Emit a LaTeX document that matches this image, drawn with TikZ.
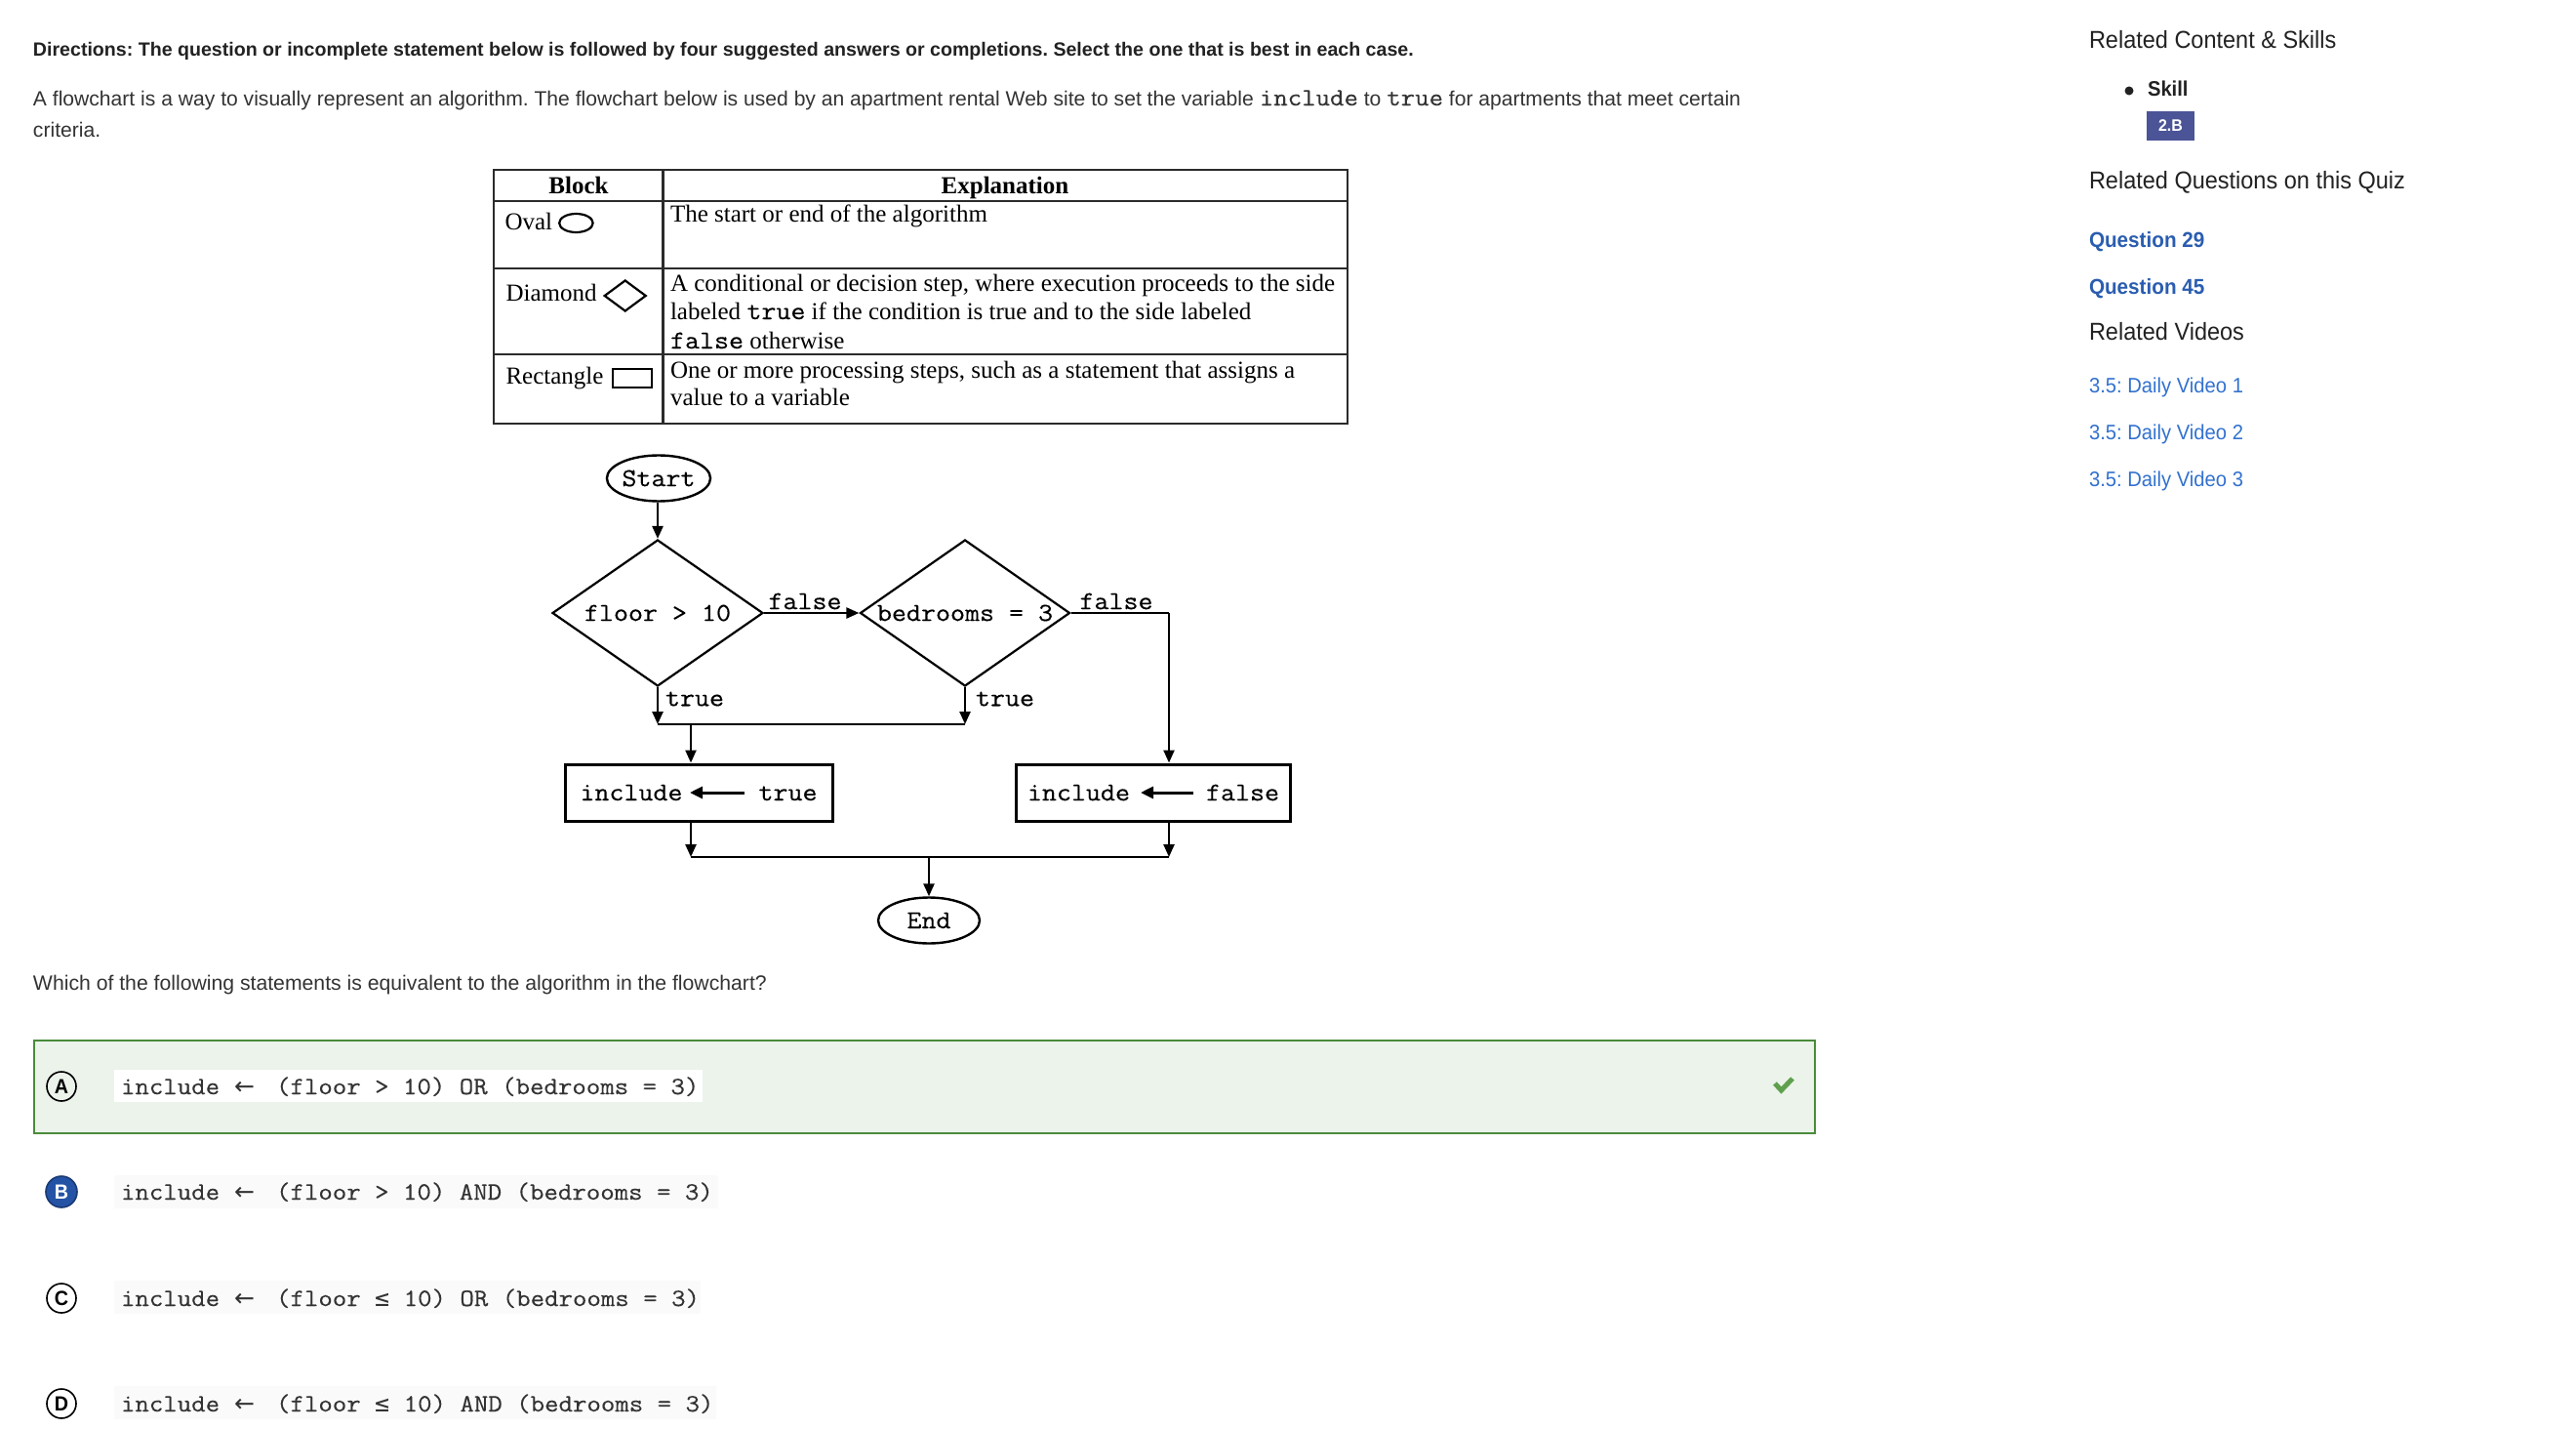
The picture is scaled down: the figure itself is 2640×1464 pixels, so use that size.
\documentclass[tikz,border=0pt]{standalone}
\usepackage{fontspec}
\usetikzlibrary{shapes.geometric,arrows.meta,calc}
\setmainfont{Liberation Sans}
\newfontfamily\uifont{Liberation Sans}[FakeStretch=0.94]
\newfontfamily\bodyfont{Liberation Sans}
\newfontfamily\tabserif{Liberation Serif}
\newfontfamily\codefont{Latin Modern Mono}[FakeStretch=1.1,FakeBold=0.3]
\newfontfamily\symsans{DejaVu Sans}
\newfontfamily\symmono{DejaVu Sans Mono}
\newcommand\setpx[1]{\fontsize{#1}{#1}\selectfont}
\newcommand\chart{\codefont\setpx{26.5}}
\newcommand\ans{\codefont\setpx{25.5}}
\newcommand\lar{{\symsans\setpx{25}←}}
\newcommand\leqm{{\symmono\setpx{25}≤}}

\definecolor{ink}{HTML}{222222}
\definecolor{body}{HTML}{333333}
\definecolor{okgreen}{HTML}{4A8B3B}
\definecolor{okfill}{HTML}{EBF3EB}
\definecolor{tick}{HTML}{5FA04E}
\definecolor{pickblue}{HTML}{2453A6}
\definecolor{badge}{HTML}{4B5496}
\definecolor{qlink}{HTML}{2A5DB0}
\definecolor{vlink}{HTML}{3271CF}
\definecolor{rule}{HTML}{2B2B2B}

\tikzset{
  txt/.style={anchor=base west, inner sep=0pt, outer sep=0pt},
  ln/.style={line width=2.4pt, draw=black},
  arr/.style={ln, -{Triangle[length=13pt,width=11pt]}},
  inarr/.style={line width=3pt, -{Triangle[length=13pt,width=12pt]}},
  oval/.style={ellipse, draw, line width=2.4pt, inner sep=0pt},
  dia/.style={diamond, shape aspect=1.45, draw, line width=2.2pt, inner sep=0pt},
  procbox/.style={rectangle, draw, line width=3pt, inner sep=0pt, minimum height=58pt},
  tabline/.style={line width=2.4pt, draw=rule},
  letter/.style={circle, draw, line width=1.6pt, minimum size=30pt, inner sep=0pt, font=\uifont\bfseries\setpx{21}},
}

\begin{document}
\frenchspacing
\begin{tikzpicture}[x=1pt, y=-1pt]
\useasboundingbox[fill=white] (0,0) rectangle (2640,1464);

% ---------- header text ----------
\node[txt, text=ink] (dir) at (34,58) {\bodyfont\bfseries\setpx{19.6}Directions: The question or incomplete statement below is followed by four suggested answers or completions. Select the one that is best in each case.};
\node[txt, text=body] (para1) at (34,108) {\bodyfont\setpx{21.1}A flowchart is a way to visually represent an algorithm. The flowchart below is used by an apartment rental Web site to set the variable {\ans include} to {\ans true} for apartments that meet certain};
\node[txt, text=body] (para2) at (34,140) {\bodyfont\setpx{21.1}criteria.};

% ---------- legend table ----------
\draw[tabline] (506,174) rectangle (1381,434);
\draw[tabline] (679.5,174) -- (679.5,434);
\foreach \yy in {206,275,363} \draw[tabline] (506,\yy) -- (1381,\yy);

\node[anchor=base, inner sep=0pt] (hblock) at (593,198) {\tabserif\bfseries\setpx{25}Block};
\node[anchor=base, inner sep=0pt] (hexpl) at (1030,198) {\tabserif\bfseries\setpx{25}Explanation};

\node[txt] (oval) at (517.5,235) {\tabserif\setpx{25}Oval};
\node[ellipse, draw, line width=2.2pt, minimum width=34.5pt, minimum height=19pt, inner sep=0pt] (ovalicon) at (590.4,228.5) {};
\node[txt] (diam) at (518.5,308) {\tabserif\setpx{25}Diamond};
\node[diamond, draw, line width=2.2pt, minimum width=43pt, minimum height=32pt, inner sep=0pt] (diamicon) at (640.7,303) {};
\node[txt] (rect) at (518.5,393) {\tabserif\setpx{25}Rectangle};
\node[rectangle, draw, line width=2.4pt, minimum width=40pt, minimum height=19pt, inner sep=0pt] (recticon) at (648,387.5) {};

\node[txt] (e1) at (687,227) {\tabserif\setpx{25}The start or end of the algorithm};
\node[txt] (e2a) at (687,298) {\tabserif\setpx{25}A conditional or decision step, where execution proceeds to the side};
\node[txt] (e2b) at (687,327) {\tabserif\setpx{25}labeled {\chart true} if the condition is true and to the side labeled};
\node[txt] (e2c) at (687,357) {\tabserif\setpx{25}{\chart false} otherwise};
\node[txt] (e3a) at (687,387) {\tabserif\setpx{25}One or more processing steps, such as a statement that assigns a};
\node[txt] (e3b) at (687,415) {\tabserif\setpx{25}value to a variable};

% ---------- flowchart ----------
\node[oval, minimum width=105pt, minimum height=47pt] (start) at (675,490) {\chart Start};
\node[dia, minimum width=216pt, minimum height=150pt] (d1) at (674,628) {\chart floor > 10};
\node[dia, minimum width=215pt, minimum height=150pt] (d2) at (989,628) {\chart bedrooms = 3};
\node[procbox, minimum width=274pt] (r1) at (716,812) {\chart include\hspace{78pt}true};
\node[procbox, minimum width=281pt] (r2) at (1182,812) {\chart include\hspace{78pt}false};
\node[oval, minimum width=104pt, minimum height=47pt] (end) at (952,943) {\chart End};

\coordinate (fr) at (1198,628);
\coordinate (jl) at (674,742);
\coordinate (jr) at (989,742);
\coordinate (jm) at (708,742);
\coordinate (bl) at (708,878);
\coordinate (br) at (1198,878);
\coordinate (bm) at (952,878);

\draw[arr] (start.south -| d1.north) -- (d1.north);
\draw[arr] (d1) -- (d2);
\draw[ln] (d2) -- (fr);
\draw[arr] (fr) -- (fr |- r2.north);
\draw[arr] (d1.south) -- (jl);
\draw[arr] (d2.south) -- (jr);
\draw[ln] (jl) -- (jr);
\draw[arr] (jm) -- (jm |- r1.north);
\draw[arr] (r1.south -| bl) -- (bl);
\draw[arr] (r2.south -| br) -- (br);
\draw[ln] (bl) -- (br);
\draw[arr] (bm) -- (bm |- end.north);

\node[inner sep=0pt] (lf1) at (825,616) {\chart false};
\node[inner sep=0pt] (lf2) at (1144,616) {\chart false};
\node[inner sep=0pt] (lt1) at (712,716) {\chart true};
\node[inner sep=0pt] (lt2) at (1030,716) {\chart true};

\draw[inarr] ($(r1.center)+(47,0)$) -- ($(r1.center)+(-9,0)$);
\draw[inarr] ($(r2.center)+(41,0)$) -- ($(r2.center)+(-13,0)$);

% ---------- question and choices ----------
\node[txt, text=body] (ask) at (34,1014) {\bodyfont\setpx{21.2}Which of the following statements is equivalent to the algorithm in the flowchart?};

\node[draw=okgreen, fill=okfill, line width=2pt, minimum width=1825pt, minimum height=95pt, anchor=north west, inner sep=0pt] (boxA) at (34,1065) {};
\draw[tick, line width=5pt] (1819,1110) -- (1825.5,1117) -- (1837,1105);

\fill[white] (117,1096) rectangle (720,1129);
\fill[gray!4] (117,1204) rectangle (736,1238);
\fill[gray!4] (117,1312) rectangle (718,1346);
\fill[gray!4] (117,1420) rectangle (734,1454);

\node[letter] (ca) at (63,1113) {A};
\node[letter, fill=pickblue, draw=pickblue!70!black, text=white, minimum size=32pt] (cb) at (63,1221) {B};
\node[letter] (cc) at (63,1330) {C};
\node[letter] (cd) at (63,1438) {D};

\node[txt, text=body] (ta) at (124,1121) {\ans include\hspace{15pt}\lar\hspace{22pt}(floor > 10) OR (bedrooms = 3)};
\node[txt, text=body] (tb) at (124,1229) {\ans include\hspace{15pt}\lar\hspace{22pt}(floor > 10) AND (bedrooms = 3)};
\node[txt, text=body] (tc) at (124,1338) {\ans include\hspace{15pt}\lar\hspace{22pt}(floor \leqm{} 10) OR (bedrooms = 3)};
\node[txt, text=body] (td) at (124,1446) {\ans include\hspace{15pt}\lar\hspace{22pt}(floor \leqm{} 10) AND (bedrooms = 3)};

% ---------- sidebar ----------
\node[txt, text=ink] (rcs) at (2141,50) {\uifont\setpx{25}Related Content \& Skills};
\fill[ink] (2182,93) circle (4.5);
\node[txt, text=ink] (skill) at (2201,99) {\uifont\bfseries\setpx{21.5}Skill};
\node[fill=badge, minimum width=49pt, minimum height=30pt, inner sep=0pt, text=white] (badgebox) at (2224.5,129) {\uifont\bfseries\setpx{17}2.B};
\node[txt, text=ink] (rq) at (2141,193) {\uifont\setpx{25}Related Questions on this Quiz};
\node[txt, text=qlink] (q29) at (2141,253) {\uifont\bfseries\setpx{22}Question 29};
\node[txt, text=qlink] (q45) at (2141,301) {\uifont\bfseries\setpx{22}Question 45};
\node[txt, text=ink] (rv) at (2141,348) {\uifont\setpx{25}Related Videos};
\node[txt, text=vlink] (v1) at (2141,402) {\uifont\setpx{21.5}3.5: Daily Video 1};
\node[txt, text=vlink] (v2) at (2141,450) {\uifont\setpx{21.5}3.5: Daily Video 2};
\node[txt, text=vlink] (v3) at (2141,498) {\uifont\setpx{21.5}3.5: Daily Video 3};
\end{tikzpicture}
\end{document}
